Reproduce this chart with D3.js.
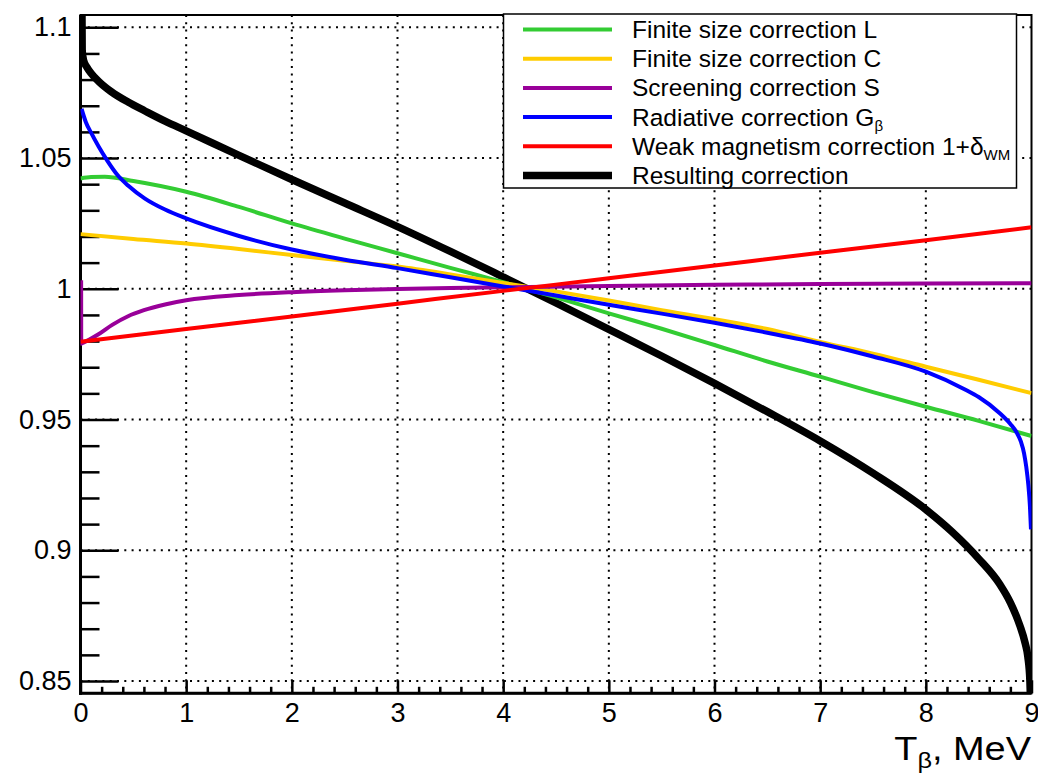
<!DOCTYPE html>
<html>
<head>
<meta charset="utf-8">
<script src="https://cdn.jsdelivr.net/npm/d3@7"></script>
<style>
  html, body { margin: 0; padding: 0; background: #fff; }
  svg { display: block; font-family: "Liberation Sans", Arial, Helvetica, sans-serif; }
</style>
</head>
<body>
<svg id="chart" width="1038" height="776"></svg>
<script>
// Kinetic energy of the beta electron, MeV, and correction factors at those energies

const finiteLT = [0, 0.1, 0.23, 0.5, 1, 1.5, 2, 2.5, 3, 3.5, 4, 4.5, 5, 5.5, 6, 6.5, 7, 7.5, 8, 8.5, 9];
const finiteL  = [1.0422, 1.0427, 1.0428, 1.0412, 1.0371, 1.0313, 1.0250, 1.0192, 1.0136, 1.0080, 1.0025,
                  0.9967, 0.9906, 0.9847, 0.9785, 0.9722, 0.9664, 0.9605, 0.9549, 0.9495, 0.9437];

const finiteCT = [0, 0.5, 1, 1.5, 2, 2.5, 3, 3.5, 4, 4.5, 5, 5.5, 6, 6.5, 7, 7.5, 8, 8.5, 9];
const finiteC  = [1.0209, 1.0190, 1.0173, 1.0152, 1.0129, 1.0107, 1.0085, 1.0055, 1.0022, 0.9990,
                  0.9955, 0.9918, 0.9884, 0.9846, 0.9797, 0.9752, 0.9702, 0.9652, 0.9601];

const screeningT = [0.006, 0.007, 0.03, 0.08, 0.17, 0.3, 0.45, 0.6, 0.8, 1, 1.5, 2, 2.5, 3, 3.5, 4, 5, 6, 7, 8, 9];
const screening  = [1.0033, 0.9790, 0.9795, 0.9805, 0.9826, 0.9862, 0.9895, 0.9918, 0.9940, 0.9956, 0.9976,
                    0.9987, 0.9994, 0.9999, 1.0003, 1.0006, 1.0011, 1.0015, 1.0018, 1.0020, 1.0021];

const radiativeT = [0.01, 0.05, 0.1, 0.17, 0.25, 0.35, 0.45, 0.61, 0.8, 1, 1.5, 2, 2.5, 3, 3.5, 4, 4.5,
                    5, 5.5, 6, 6.5, 7, 7.5, 8, 8.38, 8.5, 8.7, 8.8, 8.86, 8.9, 8.93, 8.95, 8.97, 8.985, 8.995];
const radiative  = [1.0688, 1.0638, 1.0597, 1.0545, 1.0492, 1.0435, 1.0395, 1.0345, 1.0303, 1.0269,
                    1.0202, 1.0150, 1.0111, 1.0079, 1.0044, 1.0009, 0.9974, 0.9939, 0.9905, 0.9870, 0.9832,
                    0.9791, 0.9741, 0.9683, 0.9613, 0.9586, 0.9524, 0.9483, 0.9450, 0.9415, 0.9370,
                    0.9320, 0.9250, 0.9170, 0.9080];

const weakMagT = [0, 1, 2, 3, 4, 5, 6, 7, 8, 9];
const weakMag  = [0.9797, 0.9846, 0.9894, 0.9943, 0.9992, 1.0040, 1.0089, 1.0138, 1.0186, 1.0235];

const resultT = [0.012, 0.016, 0.03, 0.06, 0.1, 0.18, 0.29, 0.45, 0.61, 0.8, 1, 1.5, 2, 2.5, 3, 3.5, 4, 4.5,
                 5, 5.5, 6, 6.5, 7, 7.5, 8, 8.25, 8.5, 8.7, 8.8, 8.89, 8.94, 8.965, 8.985, 8.997];
const result  = [1.1200, 1.0910, 1.0872, 1.0848, 1.0824, 1.0790, 1.0754, 1.0714, 1.0680, 1.0641, 1.0604,
                 1.0510, 1.0418, 1.0328, 1.0238, 1.0143, 1.0045, 0.9946, 0.9845, 0.9743, 0.9638, 0.9530,
                 0.9418, 0.9295, 0.9156, 0.9070, 0.8968, 0.8870, 0.8800, 0.8712, 0.8645, 0.8594,
                 0.8500, 0.8350];

const xTickValues = [0, 1, 2, 3, 4, 5, 6, 7, 8, 9];
const yTickValues = [0.85, 0.9, 0.95, 1.0, 1.05, 1.1];
const yTickLabels = ["0.85", "0.9", "0.95", "1", "1.05", "1.1"];

// Series in drawing order (the resulting correction is drawn underneath)
const series = [
  { key: "res", t: resultT,    v: result,    color: "#000000", width: 7.5 },
  { key: "L",   t: finiteLT,   v: finiteL,   color: "#33cc33", width: 4 },
  { key: "C",   t: finiteCT,   v: finiteC,   color: "#ffcc00", width: 4 },
  { key: "S",   t: screeningT, v: screening, color: "#990099", width: 4 },
  { key: "G",   t: radiativeT, v: radiative, color: "#0000ff", width: 4 },
  { key: "WM",  t: weakMagT,   v: weakMag,   color: "#ff0000", width: 4 }
];

const legendItems = [
  { key: "L",   color: "#33cc33", width: 4, text: [["Finite size correction L", false]] },
  { key: "C",   color: "#ffcc00", width: 4, text: [["Finite size correction C", false]] },
  { key: "S",   color: "#990099", width: 4, text: [["Screening correction S", false]] },
  { key: "G",   color: "#0000ff", width: 4, text: [["Radiative correction G", false], ["\u03b2", true]] },
  { key: "WM",  color: "#ff0000", width: 4, text: [["Weak magnetism correction 1+\u03b4", false], ["WM", true]] },
  { key: "res", color: "#000000", width: 7.5, text: [["Resulting correction", false]] }
];

const svg = d3.select("#chart");
const plot = { left: 80.5, right: 1031.5, top: 15, bottom: 693.3 };

const x = d3.scaleLinear().domain([0, 9]).range([plot.left, plot.right]);
const y = d3.scaleLinear().domain([0.8453, 1.1047]).range([plot.bottom, plot.top]);

svg.append("defs").append("clipPath").attr("id", "plotClip")
  .append("rect")
  .attr("x", plot.left).attr("y", plot.top)
  .attr("width", plot.right - plot.left).attr("height", plot.bottom - plot.top);

// Dotted grid
const grid = svg.append("g").attr("stroke", "#000").attr("stroke-width", 2)
  .attr("stroke-dasharray", "2,5.3");
grid.selectAll("line.gx").data(xTickValues.filter(d => d > 0 && d < 9)).join("line")
  .attr("class", "gx")
  .attr("x1", d => x(d)).attr("x2", d => x(d))
  .attr("y1", plot.top).attr("y2", plot.bottom);
grid.selectAll("line.gy").data(yTickValues).join("line")
  .attr("class", "gy")
  .attr("x1", plot.left).attr("x2", plot.right)
  .attr("y1", d => y(d)).attr("y2", d => y(d));

// Axes with inward ticks
const minorY = d3.range(85, 111).map(k => k / 100).filter(v => !yTickValues.some(m => Math.abs(m - v) < 1e-9));
const minorX = d3.range(0, 46).map(k => k / 5).filter(v => Math.abs(v - Math.round(v)) > 1e-9);

const yAxis = d3.axisLeft(y).tickValues(yTickValues)
  .tickFormat((d, i) => yTickLabels[i]).tickSizeInner(-38).tickSizeOuter(0).tickPadding(9);
const yMinor = d3.axisLeft(y).tickValues(minorY).tickFormat("").tickSizeInner(-19).tickSizeOuter(0);
const xAxis = d3.axisBottom(x).tickValues(xTickValues)
  .tickFormat(d3.format("d")).tickSizeInner(-13).tickSizeOuter(0).tickPadding(10);
const xMinor = d3.axisBottom(x).tickValues(minorX).tickFormat("").tickSizeInner(-6.5).tickSizeOuter(0);

function styleAxis(g) {
  g.select(".domain").remove();
  g.selectAll(".tick line").attr("stroke", "#000").attr("stroke-width", 2.5);
  g.selectAll(".tick text").attr("fill", "#000")
    .style("font-family", "'Liberation Sans', Arial, sans-serif").style("font-size", "27px");
}

svg.append("g").attr("transform", `translate(${plot.left},0)`).call(yAxis).call(styleAxis);
svg.append("g").attr("transform", `translate(${plot.left},0)`).call(yMinor).call(styleAxis);
svg.append("g").attr("transform", `translate(0,${plot.bottom})`).call(xAxis).call(styleAxis);
svg.append("g").attr("transform", `translate(0,${plot.bottom})`).call(xMinor).call(styleAxis);

// Frame
svg.append("rect")
  .attr("x", plot.left).attr("y", plot.top)
  .attr("width", plot.right - plot.left).attr("height", plot.bottom - plot.top)
  .attr("fill", "none").attr("stroke", "#000").attr("stroke-width", 2);
svg.append("line").attr("x1", plot.left).attr("x2", plot.left)
  .attr("y1", plot.top).attr("y2", plot.bottom + 1.5).attr("stroke", "#000").attr("stroke-width", 3);
svg.append("line").attr("x1", plot.left - 1.5).attr("x2", plot.right)
  .attr("y1", plot.bottom).attr("y2", plot.bottom).attr("stroke", "#000").attr("stroke-width", 3);

// Curves, drawn over the frame and clipped to it
const line = d3.line()
  .x(d => x(d[0]))
  .y(d => y(d[1]))
  .curve(d3.curveMonotoneX);

const curves = svg.append("g").attr("clip-path", "url(#plotClip)");
curves.selectAll("path").data(series).join("path")
  .attr("fill", "none")
  .attr("stroke", d => d.color)
  .attr("stroke-width", d => d.width)
  .attr("stroke-linejoin", "round")
  .attr("d", d => line(d.t.map((t, i) => [t, d.v[i]])));

// Axis title, slightly widened like the label font of the axes
const title = svg.append("text")
  .attr("transform", "translate(1031,760) scale(1.15,1)")
  .attr("text-anchor", "end")
  .style("font-size", "33px").attr("fill", "#000");
title.append("tspan").text("T");
title.append("tspan").attr("dy", 8).style("font-size", "22px").text("\u03b2");
title.append("tspan").attr("dy", -8).text(", MeV");

// Legend
const legend = svg.append("g");
legend.append("rect")
  .attr("x", 503.5).attr("y", 14).attr("width", 513).attr("height", 174)
  .attr("fill", "#fff").attr("stroke", "#000").attr("stroke-width", 1.5);

const rowY = d3.scalePoint().domain(legendItems.map(d => d.key)).range([29.5, 175.5]);
const rows = legend.selectAll("g.row").data(legendItems).join("g").attr("class", "row")
  .attr("transform", d => `translate(0,${rowY(d.key)})`);
rows.append("line")
  .attr("x1", 523).attr("x2", 612).attr("y1", 0).attr("y2", 0)
  .attr("stroke", d => d.color).attr("stroke-width", d => d.width);
const labels = rows.append("text")
  .attr("x", 632).attr("y", 8.5)
  .style("font-size", "24.5px").attr("fill", "#000");
labels.each(function(d) {
  const t = d3.select(this);
  d.text.forEach(([s, sub]) => {
    if (sub) t.append("tspan").attr("dy", 5).style("font-size", "15px").text(s);
    else t.append("tspan").text(s);
  });
});
</script>
</body>
</html>
